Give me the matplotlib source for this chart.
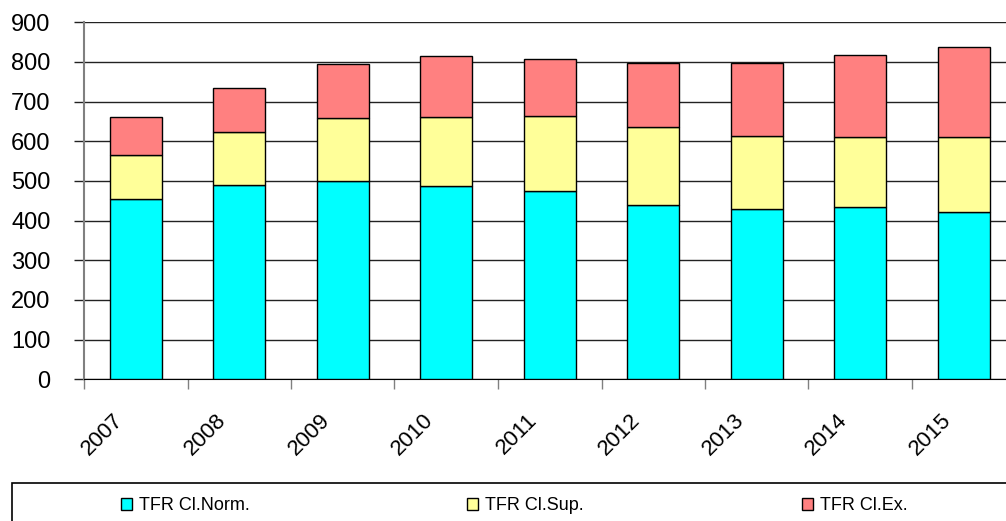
import matplotlib
matplotlib.use("Agg")
import matplotlib.pyplot as plt
import matplotlib.patches as mpatches
import matplotlib.transforms as mtransforms
import numpy as np

plt.rcParams['font.family'] = ['Liberation Sans', 'DejaVu Sans']

years = ['2007', '2008', '2009', '2010', '2011', '2012', '2013', '2014', '2015']
norm = [455, 489, 499, 488, 474, 439, 429, 434, 423]
sup = [111, 134, 160, 174, 189, 196, 185, 176, 187]
ex = [95, 112, 135, 154, 144, 162, 183, 207, 227]
series_names = ['TFR Cl.Norm.', 'TFR Cl.Sup.', 'TFR Cl.Ex.']
colors = ['#00FFFF', '#FFFF99', '#FF8080']

W, H = 1006, 521
fig = plt.figure(figsize=(W / 100, H / 100), dpi=100)
ax = fig.add_axes([84 / W, (H - 379.3) / H, 931.5 / W, 357 / H])

x = np.arange(len(years))
bottom = np.zeros(len(years))
handles = []
for vals, c, name in zip([norm, sup, ex], colors, series_names):
    h = ax.bar(x, vals, width=0.5, bottom=bottom, color=c, edgecolor='black',
               linewidth=1, label=name, zorder=3)
    handles.append(h)
    bottom += np.array(vals)

ax.set_xlim(-0.5, len(years) - 0.5)
ax.set_ylim(0, 900)
ax.set_yticks(range(0, 901, 100))
ax.yaxis.grid(True, color='#222222', linewidth=1, zorder=0)
ax.set_axisbelow(True)

ax.set_xticks(np.arange(-0.5, len(years), 1.0), minor=False)
ax.set_xticklabels([])
ax.set_xticks(x, minor=True)
ax.set_xticklabels(years, minor=True, rotation=45, ha='right', va='center',
                   rotation_mode='anchor', fontsize=16)
ax.tick_params(axis='x', which='minor', length=0, pad=27)
ax.tick_params(axis='x', which='major', length=7, width=1, color='#808080')
ax.tick_params(axis='y', length=7, width=1, color='#222222', labelsize=17, pad=17)
offset = mtransforms.ScaledTranslation(-16 / 100, 0, fig.dpi_scale_trans)
for lab in ax.get_xticklabels(minor=True):
    lab.set_transform(lab.get_transform() + offset)

for s in ['top', 'right']:
    ax.spines[s].set_visible(False)
ax.spines['left'].set_color('#808080')
ax.spines['left'].set_linewidth(1.5)
ax.spines['bottom'].set_color('black')

# legend frame
frame = mpatches.Rectangle((12 / W, -10 / H), (W + 20 - 12) / W, (H - 483 + 10) / H,
                           transform=fig.transFigure, facecolor='white',
                           edgecolor='black', linewidth=1.2, clip_on=False)
fig.patches.append(frame)

leg_x = [121, 467, 802]
for hdl, name, lx in zip(handles, series_names, leg_x):
    lg = fig.legend(handles=[hdl], labels=[name], loc='center left',
                    bbox_to_anchor=(lx / W, (H - 506) / H), fontsize=13,
                    frameon=False, handlelength=0.62, handleheight=0.68,
                    handletextpad=0.35, borderpad=0, borderaxespad=0)

fig.savefig('out.png', dpi=100)
